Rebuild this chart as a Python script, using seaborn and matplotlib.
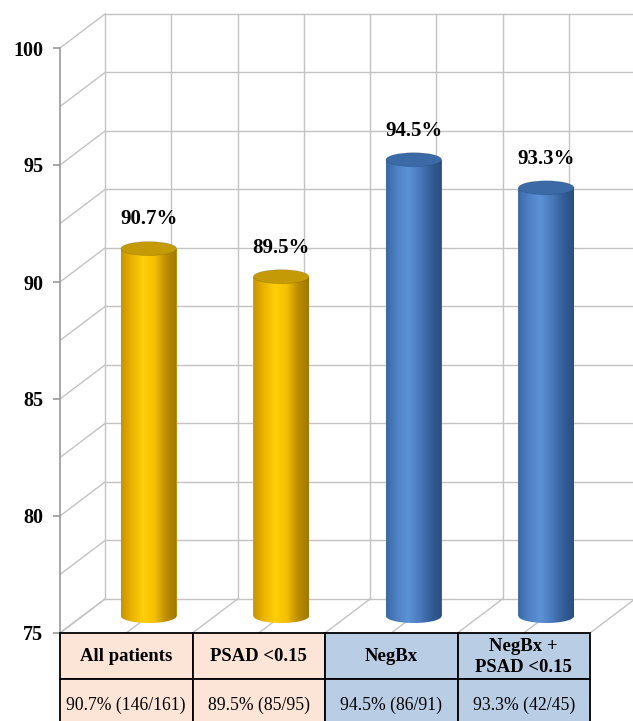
import numpy as np
import pandas as pd
import matplotlib
matplotlib.use("Agg")
import matplotlib.pyplot as plt
import seaborn as sns
from matplotlib.path import Path
from matplotlib.patches import PathPatch, Ellipse, Rectangle
from matplotlib.colors import LinearSegmentedColormap

# data
groups = ["All patients", "PSAD <0.15", "NegBx", "NegBx +\nPSAD <0.15"]
rates = [90.7, 89.5, 94.5, 93.3]
counts = ["90.7% (146/161)", "89.5% (85/95)", "94.5% (86/91)", "93.3% (42/45)"]
kind = ["gold", "gold", "blue", "blue"]
yticks = [75, 80, 85, 90, 95, 100]

plt.rcParams["font.family"] = ["Liberation Serif", "DejaVu Serif"]

W, H = 633, 721
fig = plt.figure(figsize=(W / 100, H / 100), dpi=100)

# front plane of the 3D box, in pixels
left_px, right_px, top_px, base_px = 60, 590, 48, 633
dx_px, dy_px = 45, 34  # depth offset
ymin, ymax = 75, 100
xu = (right_px - left_px) / 4          # px per category
yu = (base_px - top_px) / (ymax - ymin)  # px per unit
dx, dy = dx_px / xu, dy_px / yu

pos = [left_px / W, (H - base_px) / H, (right_px - left_px) / W, (base_px - top_px) / H]
ax = fig.add_axes(pos)
ax.set_xlim(-0.5, 3.5)
ax.set_ylim(ymin, ymax)
ax.patch.set_visible(False)

# back wall, side wall and floor grid
gc = "#C3C3C3"
lw = 1.0
levels = np.arange(ymin, ymax + 0.1, 2.5)
cols = np.arange(-0.5, 3.51, 0.5)
for y in levels:
    ax.plot([-0.5 + dx, 3.5 + dx], [y + dy, y + dy], color=gc, lw=lw, clip_on=False, zorder=0)
    ax.plot([-0.5, -0.5 + dx], [y, y + dy], color=gc, lw=lw, clip_on=False, zorder=0)
for x in cols:
    ax.plot([x + dx, x + dx], [ymin + dy, ymax + dy], color=gc, lw=lw, clip_on=False, zorder=0)
    ax.plot([x, x + dx], [ymin, ymin + dy], color=gc, lw=lw, clip_on=False, zorder=0)

# front axis
for s in ["top", "right", "bottom"]:
    ax.spines[s].set_visible(False)
ax.spines["left"].set_color("#9A9A9A")
ax.spines["left"].set_linewidth(1.2)
ax.set_xticks([])
ax.set_yticks(yticks)
ax.set_yticklabels([str(t) for t in yticks], fontsize=14.5, fontweight="bold")
ax.tick_params(axis="y", length=5, width=1.2, color="#9A9A9A", pad=7)

# table under the floor
fills = {"gold": "#FCE4D6", "blue": "#B9CDE5"}
h1 = (679 - base_px) / yu
h2 = (H - 679 + 10) / yu
for i, g in enumerate(groups):
    fc = fills[kind[i]]
    ax.add_patch(Rectangle((i - 0.5, ymin - h1), 1, h1, facecolor=fc, edgecolor="black",
                           lw=1.3, clip_on=False, zorder=5))
    ax.add_patch(Rectangle((i - 0.5, ymin - h1 - h2), 1, h2, facecolor=fc, edgecolor="black",
                           lw=1.3, clip_on=False, zorder=5))
    ax.text(i, ymin - (657 - base_px) / yu, g, ha="center", va="center", fontsize=13.5,
            fontweight="bold", linespacing=1.3, clip_on=False, zorder=6)
    ax.text(i, ymin - (705 - base_px) / yu, counts[i], ha="center", va="center",
            fontsize=12.7, clip_on=False, zorder=6)

# cylinders sit half way into the box
mpos = [(left_px + dx_px / 2) / W, (H - base_px + dy_px / 2) / H, pos[2], pos[3]]
axm = fig.add_axes(mpos)
df = pd.DataFrame({"group": groups, "rate": rates, "kind": kind})
palette = {"gold": "#FFC000", "blue": "#4F81BD"}
sns.barplot(data=df, x="group", y="rate", hue="kind", palette=palette, width=0.42,
            legend=False, ax=axm, dodge=False)
axm.set_xlim(-0.5, 3.5)
axm.set_ylim(ymin, ymax)
axm.axis("off")

ramps = {
    "gold": LinearSegmentedColormap.from_list("g", ["#C89300", "#EBB500", "#FFCF0A", "#F5C000", "#BE8E00", "#A07800"]),
    "blue": LinearSegmentedColormap.from_list("b", ["#3A68A4", "#4E82C6", "#5C92D6", "#4A7BBC", "#345F98", "#2A4E80"]),
}
tops = {"gold": "#C49A06", "blue": "#3B6AA6"}
b = 7 / yu  # ellipse half height in value units

grad = np.linspace(0, 1, 256).reshape(1, -1)
bars = sorted(axm.patches, key=lambda p: p.get_x())
for i, p in enumerate(bars):
    x0, w, top = p.get_x(), p.get_width(), p.get_height()
    cx = x0 + w / 2
    t = np.linspace(np.pi, 2 * np.pi, 60)
    verts = [(x0, top), (x0, ymin)]
    verts += list(zip(cx + w / 2 * np.cos(t), ymin + b * np.sin(t)))
    verts += [(x0 + w, top), (x0, top)]
    body = PathPatch(Path(verts), transform=axm.transData, facecolor="none", edgecolor="none")
    im = axm.imshow(grad, cmap=ramps[kind[i]], aspect="auto", extent=[x0, x0 + w, ymin - b, top],
                    zorder=2, interpolation="bilinear")
    im.set_clip_box(fig.bbox)
    im.set_clip_path(body)
    axm.add_patch(Ellipse((cx, top), w, 2 * b, facecolor=tops[kind[i]], edgecolor="#00000020",
                          lw=0.6, zorder=3, clip_on=False))
    axm.annotate(f"{rates[i]}%", (cx, top), xytext=(0, 21), textcoords="offset points",
                 ha="center", va="center", fontsize=15, fontweight="bold", annotation_clip=False)

axm.set_xlim(-0.5, 3.5)
axm.set_ylim(ymin, ymax)

fig.savefig("out.png", dpi=100)
